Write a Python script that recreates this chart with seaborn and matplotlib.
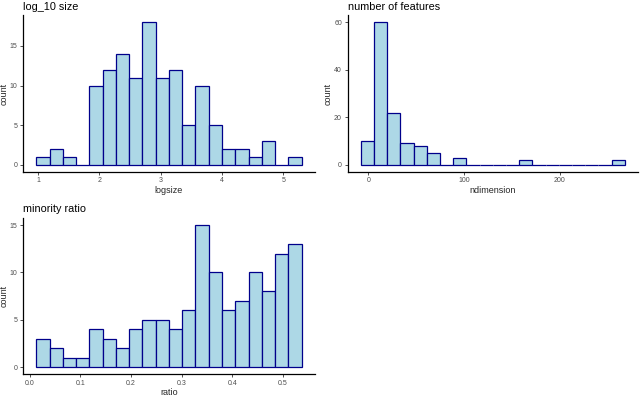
import numpy as np
import pandas as pd
import matplotlib
matplotlib.use("Agg")
import matplotlib.pyplot as plt
import seaborn as sns

# histogram data: 20 bins per panel, (first edge, last edge) + counts
logsize_range = (0.97, 5.30)
logsize_counts = [1, 2, 1, 0, 10, 12, 14, 11, 18, 11, 12, 5, 10, 5, 2, 2, 1, 3, 0, 1]

ndim_range = (-8.0, 268.0)
ndim_counts = [10, 60, 22, 9, 8, 5, 0, 3, 0, 0, 0, 0, 2, 0, 0, 0, 0, 0, 0, 2]

ratio_range = (0.013, 0.537)
ratio_counts = [3, 2, 1, 1, 4, 3, 2, 4, 5, 5, 4, 6, 15, 10, 6, 7, 10, 8, 12, 13]

FILL = "#ADD8E6"   # lightblue
EDGE = "#00008B"   # darkblue

sns.set_theme(style="ticks")
plt.rcParams["font.family"] = ["Liberation Sans", "DejaVu Sans"]


def draw_hist(ax, rng, counts, title, xlabel, xticks, yticks):
    nb = len(counts)
    width = (rng[1] - rng[0]) / nb
    mids = rng[0] + width * (np.arange(nb) + 0.5)
    df = pd.DataFrame({"x": mids, "n": counts})
    sns.histplot(data=df, x="x", weights="n", bins=nb, binrange=rng, ax=ax,
                 color=FILL, edgecolor=EDGE, linewidth=0.9, alpha=1)
    # ggplot-like 5% expansion
    dx = 0.05 * (rng[1] - rng[0])
    ax.set_xlim(rng[0] - dx, rng[1] + dx)
    top = max(counts)
    ax.set_ylim(-0.05 * top, 1.05 * top)
    ax.set_xticks(xticks)
    ax.set_yticks(yticks)
    ax.set_title(title, loc="left", fontsize=7.8, pad=4, color="black")
    ax.set_xlabel(xlabel, fontsize=6.5)
    ax.set_ylabel("count", fontsize=6.5)
    ax.xaxis.set_label_coords(0.5, -0.088)
    ax.yaxis.set_label_coords(-0.05, 0.5)
    ax.tick_params(axis="both", labelsize=5.0, length=2.5, width=0.6,
                   color="#333333", labelcolor="#4D4D4D", pad=1.5)
    sns.despine(ax=ax)
    for s in ("left", "bottom"):
        ax.spines[s].set_linewidth(0.9)
        ax.spines[s].set_color("black")


fig = plt.figure(figsize=(6.4, 3.97), dpi=100)
ax1 = fig.add_axes([0.036, 0.567, 0.456, 0.395])
ax2 = fig.add_axes([0.543, 0.567, 0.454, 0.395])
ax3 = fig.add_axes([0.036, 0.057, 0.456, 0.394])

draw_hist(ax1, logsize_range, logsize_counts, "log_10 size", "logsize",
          [1, 2, 3, 4, 5], [0, 5, 10, 15])
draw_hist(ax2, ndim_range, ndim_counts, "number of features", "ndimension",
          [0, 100, 200], [0, 20, 40, 60])
draw_hist(ax3, ratio_range, ratio_counts, "minority ratio", "ratio",
          [0.0, 0.1, 0.2, 0.3, 0.4, 0.5], [0, 5, 10, 15])

fig.savefig("out.png", dpi=100)
